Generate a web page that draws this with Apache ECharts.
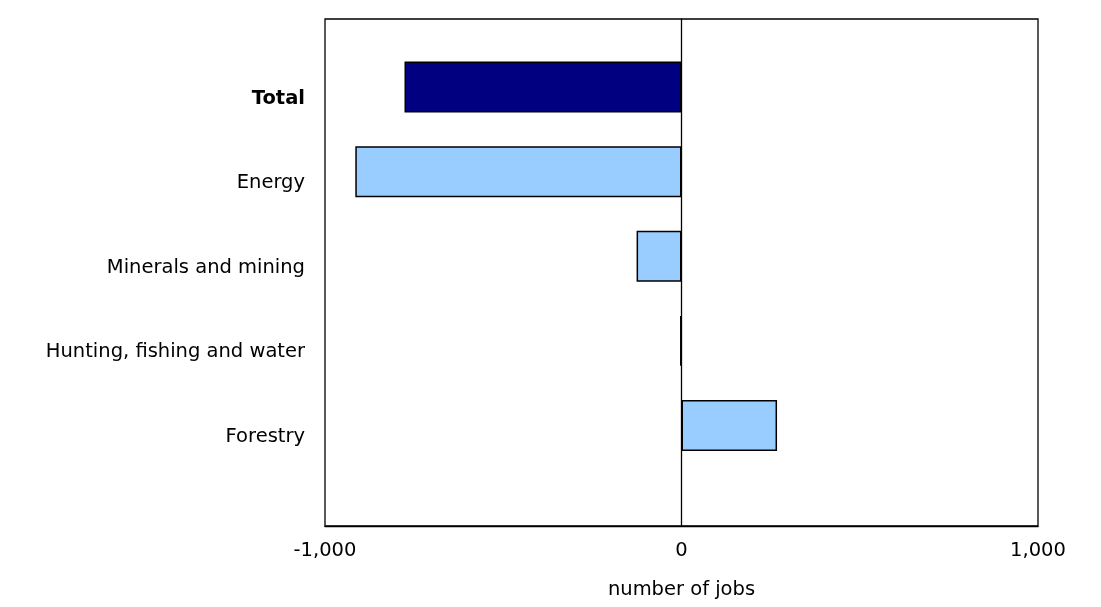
<!DOCTYPE html>
<html><head><meta charset="utf-8">
<script src="https://cdn.jsdelivr.net/npm/echarts@6/dist/echarts.min.js"></script>
<style>html,body{margin:0;padding:0;background:#fff}#c{width:1101px;height:607px}</style>
</head><body><div id="c"></div>
<script>
const categories = ["Total", "Energy", "Minerals and mining", "Hunting, fishing and water", "Forestry"];
const values = [-777, -915, -126, -4, 268];
const xTicks = [-1000, 0, 1000];
const barColors = ["#000080", "#99CCFF", "#99CCFF", "#99CCFF", "#99CCFF"];

const chart = echarts.init(document.getElementById('c'));
const FONT = 'DejaVu Sans';
const FS = 19.5;
chart.setOption({
  animation: false,
  grid: [
    {left: 325, right: 63, top: 19, bottom: 81, show: true, borderColor: '#000', borderWidth: 1.3, backgroundColor: 'transparent'},
    {left: 325, right: 63, top: 44.7, bottom: 139.2}
  ],
  xAxis: [
    {gridIndex: 0, type: 'value', min: xTicks[0], max: xTicks[2], interval: 1000,
     axisLine: {show: true, lineStyle: {color: '#000', width: 1.3}}, axisTick: {show: false},
     splitLine: {show: false},
     axisLabel: {color: '#000', fontFamily: FONT, fontSize: FS, margin: 15,
       formatter: v => v.toLocaleString('en-US')},
     name: 'number of jobs', nameLocation: 'middle', nameGap: 54,
     nameTextStyle: {color: '#000', fontFamily: FONT, fontSize: FS}},
    {gridIndex: 1, type: 'value', min: xTicks[0], max: xTicks[2], interval: 1000, show: false}
  ],
  yAxis: [
    {gridIndex: 0, type: 'value', min: 0, max: 1,
     axisLine: {show: true, onZero: true, lineStyle: {color: '#000', width: 1.3}},
     axisTick: {show: false}, axisLabel: {show: false}, splitLine: {show: false}},
    {gridIndex: 1, type: 'category', data: categories, inverse: true,
     axisLine: {show: false}, axisTick: {show: false}, position: 'left',
     axisLabel: {margin: 20, fontFamily: FONT, fontSize: FS, color: '#000',
       padding: [23, 0, 0, 0],
       formatter: (v) => v === 'Total' ? '{b|' + v + '}' : v,
       rich: {b: {fontWeight: 'bold', fontFamily: FONT, fontSize: FS, color: '#000'}}},
     splitLine: {show: false}}
  ],
  series: [{
    type: 'bar', xAxisIndex: 1, yAxisIndex: 1, barWidth: 51,
    data: values.map((v, i) => ({value: v, itemStyle: {color: barColors[i]}})),
    itemStyle: {borderColor: '#000', borderWidth: 1.5}
  }]
});
</script></body></html>
